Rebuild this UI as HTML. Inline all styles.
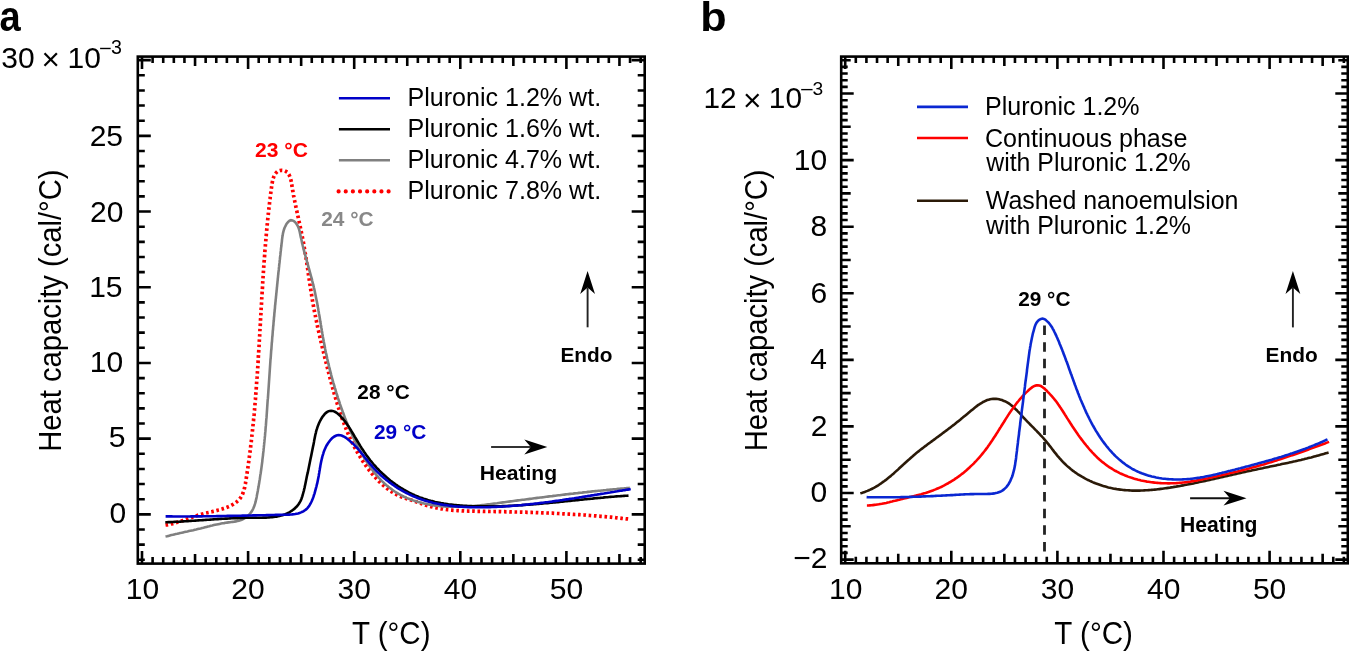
<!DOCTYPE html>
<html><head><meta charset="utf-8"><title>DSC thermograms</title>
<style>
html,body{margin:0;padding:0;background:#fff;}
body{width:1349px;height:651px;overflow:hidden;}
svg{display:block;will-change:transform;}
text{font-family:"Liberation Sans",sans-serif;}
</style></head>
<body>
<svg width="1349" height="651" viewBox="0 0 1349 651">
<rect width="1349" height="651" fill="#fff"/>
<path d="M165.5 525.0L167.0 524.8L168.5 524.5L169.9 524.3L171.4 523.9L172.9 523.6L174.3 523.2L175.8 522.8L177.2 522.3L178.7 521.9L180.1 521.4L181.5 520.9L182.9 520.4L184.3 519.9L185.8 519.4L187.2 518.9L188.6 518.4L190.0 517.9L191.4 517.4L192.8 516.9L194.3 516.4L195.7 515.9L197.1 515.5L198.6 515.0L200.0 514.6L201.5 514.2L202.9 513.9L204.4 513.5L205.8 513.1L207.3 512.8L208.8 512.5L210.2 512.1L211.7 511.8L213.2 511.4L214.6 511.1L216.1 510.7L217.5 510.3L219.0 510.0L220.4 509.5L221.9 509.1L223.3 508.6L224.7 508.2L226.2 507.6L227.6 507.1L228.9 506.5L230.3 505.9L231.6 505.2L233.0 504.5L234.2 503.7L235.5 502.8L236.7 501.9L237.8 500.9L238.9 499.9L239.9 498.7L240.7 497.5L241.5 496.2L242.2 494.9L242.8 493.5L243.3 492.1L243.8 490.7L244.2 489.2L244.6 487.8L244.9 486.3L245.2 484.8L245.5 483.3L245.7 481.8L246.0 480.4L246.2 478.9L246.4 477.4L246.7 475.9L246.9 474.4L247.1 472.9L247.3 471.4L247.6 470.0L247.8 468.5L248.0 467.0L248.2 465.5L248.4 464.0L248.6 462.5L248.8 461.0L249.0 459.5L249.2 458.0L249.4 456.5L249.6 455.1L249.8 453.6L250.0 452.1L250.2 450.6L250.4 449.1L250.6 447.6L250.7 446.1L250.9 444.6L251.1 443.1L251.3 441.6L251.4 440.1L251.6 438.6L251.8 437.1L251.9 435.6L252.1 434.1L252.3 432.6L252.4 431.1L252.6 429.6L252.7 428.2L252.9 426.7L253.0 425.2L253.2 423.7L253.3 422.2L253.5 420.7L253.6 419.2L253.8 417.7L253.9 416.2L254.1 414.7L254.2 413.2L254.3 411.7L254.5 410.2L254.6 408.7L254.7 407.2L254.9 405.7L255.0 404.2L255.1 402.7L255.2 401.2L255.4 399.7L255.5 398.2L255.6 396.7L255.7 395.2L255.8 393.7L256.0 392.2L256.1 390.7L256.2 389.2L256.3 387.7L256.4 386.2L256.5 384.7L256.6 383.2L256.7 381.7L256.8 380.2L256.9 378.7L257.1 377.2L257.2 375.7L257.3 374.2L257.4 372.7L257.5 371.2L257.6 369.7L257.7 368.2L257.8 366.7L257.9 365.2L258.0 363.7L258.1 362.2L258.1 360.7L258.2 359.2L258.3 357.7L258.4 356.2L258.5 354.7L258.6 353.2L258.7 351.7L258.8 350.2L258.9 348.7L259.0 347.2L259.1 345.7L259.2 344.2L259.2 342.7L259.3 341.2L259.4 339.7L259.5 338.2L259.6 336.7L259.7 335.1L259.8 333.6L259.9 332.1L259.9 330.6L260.0 329.1L260.1 327.6L260.2 326.1L260.3 324.6L260.4 323.1L260.5 321.6L260.5 320.1L260.6 318.6L260.7 317.1L260.8 315.6L260.9 314.1L261.0 312.6L261.0 311.1L261.1 309.6L261.2 308.1L261.3 306.6L261.4 305.1L261.5 303.6L261.6 302.1L261.7 300.6L261.7 299.1L261.8 297.6L261.9 296.1L262.0 294.6L262.1 293.1L262.2 291.6L262.3 290.1L262.4 288.6L262.5 287.1L262.6 285.6L262.6 284.1L262.7 282.6L262.8 281.1L262.9 279.6L263.0 278.1L263.1 276.6L263.2 275.1L263.3 273.6L263.4 272.1L263.5 270.6L263.6 269.1L263.7 267.6L263.8 266.1L263.9 264.6L264.0 263.1L264.1 261.6L264.3 260.1L264.4 258.6L264.5 257.1L264.6 255.6L264.7 254.1L264.8 252.6L264.9 251.1L265.0 249.6L265.2 248.1L265.3 246.6L265.4 245.1L265.5 243.6L265.7 242.1L265.8 240.6L265.9 239.1L266.0 237.6L266.2 236.1L266.3 234.6L266.4 233.1L266.6 231.6L266.7 230.1L266.9 228.6L267.0 227.1L267.1 225.6L267.3 224.1L267.4 222.6L267.6 221.1L267.7 219.6L267.9 218.1L268.0 216.6L268.2 215.1L268.4 213.6L268.5 212.1L268.7 210.6L268.9 209.1L269.0 207.6L269.2 206.1L269.4 204.6L269.5 203.2L269.7 201.7L269.9 200.2L270.1 198.7L270.2 197.2L270.4 195.7L270.6 194.2L270.8 192.7L271.0 191.2L271.2 189.7L271.4 188.2L271.6 186.7L271.8 185.2L272.0 183.8L272.3 182.3L272.6 180.8L272.9 179.3L273.4 177.9L273.9 176.5L274.5 175.1L275.3 173.8L276.2 172.7L277.3 171.7L278.7 170.9L280.1 170.5L281.6 170.4L283.1 170.5L284.6 170.8L285.9 171.4L287.2 172.2L288.2 173.4L289.0 174.6L289.6 176.0L290.2 177.4L290.6 178.8L291.0 180.3L291.3 181.8L291.5 183.2L291.8 184.7L292.0 186.2L292.2 187.7L292.5 189.2L292.7 190.7L293.0 192.1L293.3 193.6L293.5 195.1L293.8 196.6L294.1 198.1L294.4 199.5L294.7 201.0L295.0 202.5L295.3 204.0L295.6 205.4L295.9 206.9L296.2 208.4L296.5 209.8L296.9 211.3L297.2 212.8L297.5 214.3L297.8 215.7L298.2 217.2L298.5 218.7L298.8 220.1L299.1 221.6L299.4 223.1L299.8 224.5L300.1 226.0L300.4 227.5L300.7 229.0L301.0 230.4L301.3 231.9L301.6 233.4L301.9 234.8L302.2 236.3L302.5 237.8L302.8 239.3L303.1 240.8L303.4 242.2L303.6 243.7L303.9 245.2L304.1 246.7L304.4 248.2L304.6 249.6L304.9 251.1L305.1 252.6L305.4 254.1L305.6 255.6L305.9 257.1L306.1 258.6L306.3 260.0L306.5 261.5L306.8 263.0L307.0 264.5L307.2 266.0L307.4 267.5L307.7 269.0L307.9 270.5L308.1 271.9L308.3 273.4L308.5 274.9L308.7 276.4L309.0 277.9L309.2 279.4L309.4 280.9L309.6 282.4L309.8 283.8L310.1 285.3L310.3 286.8L310.5 288.3L310.8 289.8L311.0 291.3L311.2 292.8L311.5 294.3L311.7 295.7L311.9 297.2L312.2 298.7L312.4 300.2L312.7 301.7L312.9 303.2L313.2 304.6L313.5 306.1L313.7 307.6L314.0 309.1L314.3 310.6L314.6 312.0L314.9 313.5L315.2 315.0L315.5 316.5L315.7 317.9L316.0 319.4L316.4 320.9L316.7 322.4L317.0 323.8L317.3 325.3L317.6 326.8L317.9 328.2L318.2 329.7L318.6 331.2L318.9 332.6L319.2 334.1L319.6 335.6L319.9 337.0L320.2 338.5L320.6 340.0L320.9 341.4L321.3 342.9L321.6 344.4L322.0 345.8L322.3 347.3L322.7 348.8L323.0 350.2L323.4 351.7L323.7 353.1L324.1 354.6L324.5 356.1L324.8 357.5L325.2 359.0L325.6 360.4L325.9 361.9L326.3 363.4L326.7 364.8L327.0 366.3L327.4 367.7L327.8 369.2L328.2 370.6L328.5 372.1L328.9 373.6L329.3 375.0L329.6 376.5L330.0 377.9L330.4 379.4L330.8 380.8L331.2 382.3L331.6 383.8L331.9 385.2L332.3 386.7L332.7 388.1L333.1 389.6L333.5 391.0L333.9 392.5L334.3 393.9L334.8 395.4L335.2 396.8L335.6 398.2L336.0 399.7L336.4 401.1L336.9 402.6L337.3 404.0L337.8 405.4L338.2 406.9L338.7 408.3L339.1 409.7L339.6 411.2L340.1 412.6L340.6 414.0L341.0 415.5L341.5 416.9L342.0 418.3L342.6 419.7L343.1 421.1L343.6 422.5L344.1 423.9L344.7 425.3L345.2 426.7L345.8 428.1L346.3 429.5L346.9 430.9L347.5 432.3L348.1 433.7L348.7 435.1L349.3 436.4L349.9 437.8L350.6 439.2L351.2 440.5L351.9 441.9L352.5 443.2L353.2 444.6L353.9 445.9L354.6 447.3L355.3 448.6L356.0 449.9L356.7 451.2L357.5 452.5L358.2 453.8L359.0 455.1L359.8 456.4L360.6 457.7L361.4 459.0L362.2 460.2L363.0 461.5L363.8 462.7L364.7 464.0L365.5 465.2L366.4 466.4L367.3 467.7L368.2 468.9L369.1 470.1L370.1 471.2L371.0 472.4L371.9 473.6L372.9 474.7L373.9 475.9L374.9 477.0L375.9 478.1L376.9 479.2L378.0 480.3L379.0 481.4L380.1 482.4L381.2 483.5L382.3 484.5L383.4 485.5L384.5 486.5L385.7 487.4L386.9 488.4L388.1 489.3L389.3 490.2L390.5 491.0L391.8 491.8L393.1 492.6L394.4 493.4L395.7 494.1L397.0 494.8L398.4 495.5L399.7 496.1L401.1 496.7L402.5 497.2L403.9 497.7L405.4 498.2L406.8 498.7L408.2 499.2L409.7 499.6L411.1 500.1L412.5 500.5L414.0 501.0L415.4 501.5L416.8 502.0L418.2 502.5L419.6 503.0L421.1 503.5L422.5 504.0L423.9 504.5L425.3 505.0L426.8 505.4L428.2 505.8L429.6 506.2L431.1 506.6L432.6 507.0L434.0 507.4L435.5 507.7L437.0 508.0L438.4 508.3L439.9 508.5L441.4 508.8L442.9 509.0L444.4 509.3L445.9 509.5L447.4 509.7L448.9 509.8L450.3 510.0L451.8 510.1L453.3 510.3L454.8 510.4L456.3 510.5L457.8 510.6L459.3 510.7L460.8 510.8L462.3 510.9L463.9 510.9L465.4 511.0L466.9 511.0L468.4 511.1L469.9 511.1L471.4 511.2L472.9 511.2L474.4 511.2L475.9 511.3L477.4 511.3L478.9 511.3L480.4 511.3L481.9 511.3L483.4 511.4L484.9 511.4L486.4 511.4L487.9 511.4L489.4 511.5L490.9 511.5L492.4 511.5L493.9 511.5L495.4 511.6L496.9 511.6L498.4 511.6L499.9 511.6L501.5 511.7L503.0 511.7L504.5 511.7L506.0 511.8L507.5 511.8L509.0 511.8L510.5 511.9L512.0 511.9L513.5 511.9L515.0 512.0L516.5 512.0L518.0 512.0L519.5 512.1L521.0 512.1L522.5 512.2L524.0 512.2L525.5 512.2L527.0 512.3L528.5 512.3L530.0 512.4L531.5 512.4L533.0 512.5L534.5 512.5L536.0 512.6L537.5 512.6L539.0 512.7L540.6 512.7L542.1 512.8L543.6 512.9L545.1 512.9L546.6 513.0L548.1 513.0L549.6 513.1L551.1 513.2L552.6 513.2L554.1 513.3L555.6 513.4L557.1 513.5L558.6 513.5L560.1 513.6L561.6 513.7L563.1 513.8L564.6 513.8L566.1 513.9L567.6 514.0L569.1 514.1L570.6 514.2L572.1 514.3L573.6 514.4L575.1 514.5L576.6 514.5L578.1 514.6L579.6 514.7L581.1 514.8L582.6 514.9L584.1 515.0L585.6 515.1L587.1 515.3L588.6 515.4L590.1 515.5L591.6 515.6L593.1 515.7L594.6 515.8L596.1 515.9L597.6 516.1L599.1 516.2L600.6 516.3L602.1 516.4L603.6 516.6L605.1 516.7L606.6 516.8L608.1 517.0L609.6 517.1L611.1 517.2L612.6 517.4L614.1 517.5L615.6 517.7L617.1 517.8L618.6 518.0L620.1 518.1L621.6 518.3L623.1 518.5L624.6 518.6L626.1 518.8L627.6 518.9L629.1 519.1L630.6 519.3" fill="none" stroke="#ff0000" stroke-width="3.7" stroke-dasharray="2.6 2.7"/>
<path d="M165.5 536.6L167.0 536.3L168.4 535.9L169.9 535.5L171.3 535.1L172.8 534.8L174.3 534.4L175.7 534.1L177.2 533.8L178.7 533.4L180.1 533.1L181.6 532.8L183.1 532.4L184.5 532.1L186.0 531.8L187.5 531.5L188.9 531.1L190.4 530.8L191.9 530.5L193.3 530.2L194.8 529.8L196.2 529.5L197.7 529.1L199.2 528.7L200.6 528.4L202.1 528.0L203.5 527.7L205.0 527.3L206.5 526.9L207.9 526.5L209.4 526.2L210.8 525.8L212.3 525.5L213.8 525.1L215.2 524.8L216.7 524.5L218.2 524.2L219.6 523.9L221.1 523.6L222.6 523.3L224.1 523.1L225.6 522.8L227.0 522.6L228.5 522.4L230.0 522.2L231.5 522.0L233.0 521.9L234.5 521.6L236.0 521.4L237.4 521.1L238.9 520.7L240.3 520.3L241.7 519.8L243.1 519.1L244.4 518.4L245.7 517.6L246.9 516.7L248.0 515.7L249.1 514.7L250.1 513.5L251.0 512.4L251.9 511.1L252.6 509.8L253.3 508.5L253.9 507.1L254.4 505.7L254.9 504.2L255.3 502.8L255.7 501.4L256.0 499.9L256.4 498.4L256.7 496.9L256.9 495.5L257.2 494.0L257.5 492.5L257.8 491.0L258.0 489.6L258.3 488.1L258.6 486.6L258.8 485.1L259.1 483.6L259.3 482.1L259.5 480.7L259.8 479.2L260.0 477.7L260.2 476.2L260.4 474.7L260.7 473.2L260.9 471.7L261.1 470.3L261.3 468.8L261.5 467.3L261.7 465.8L261.9 464.3L262.1 462.8L262.3 461.3L262.4 459.8L262.6 458.3L262.8 456.8L263.0 455.3L263.1 453.9L263.3 452.4L263.5 450.9L263.6 449.4L263.8 447.9L263.9 446.4L264.1 444.9L264.2 443.4L264.4 441.9L264.5 440.4L264.7 438.9L264.8 437.4L265.0 435.9L265.1 434.4L265.2 432.9L265.4 431.4L265.5 429.9L265.6 428.4L265.7 426.9L265.9 425.4L266.0 423.9L266.1 422.4L266.2 420.9L266.3 419.4L266.5 417.9L266.6 416.4L266.7 414.9L266.8 413.4L266.9 411.9L267.0 410.4L267.1 408.9L267.2 407.4L267.3 405.9L267.4 404.4L267.5 402.9L267.6 401.4L267.7 399.9L267.9 398.4L268.0 396.9L268.1 395.4L268.2 393.9L268.3 392.4L268.4 390.9L268.5 389.4L268.6 388.0L268.7 386.5L268.8 385.0L268.9 383.5L269.0 382.0L269.1 380.5L269.2 379.0L269.3 377.5L269.4 376.0L269.5 374.5L269.6 373.0L269.7 371.5L269.8 370.0L269.9 368.5L270.0 367.0L270.1 365.5L270.2 364.0L270.3 362.5L270.4 361.0L270.5 359.5L270.7 358.0L270.8 356.5L270.9 355.0L271.0 353.5L271.1 352.0L271.2 350.5L271.4 349.0L271.5 347.5L271.6 346.0L271.7 344.5L271.8 343.0L272.0 341.5L272.1 340.0L272.2 338.5L272.3 337.0L272.5 335.5L272.6 334.0L272.7 332.5L272.8 331.0L273.0 329.5L273.1 328.0L273.2 326.5L273.4 325.0L273.5 323.5L273.6 322.0L273.8 320.5L273.9 319.0L274.0 317.5L274.2 316.0L274.3 314.5L274.4 313.0L274.6 311.5L274.7 310.0L274.9 308.5L275.0 307.0L275.1 305.5L275.3 304.1L275.4 302.6L275.6 301.1L275.7 299.6L275.9 298.1L276.0 296.6L276.2 295.1L276.3 293.6L276.5 292.1L276.6 290.6L276.8 289.1L276.9 287.6L277.1 286.1L277.2 284.6L277.4 283.1L277.5 281.6L277.7 280.1L277.8 278.6L278.0 277.1L278.1 275.6L278.3 274.1L278.4 272.6L278.6 271.2L278.8 269.7L278.9 268.2L279.1 266.7L279.2 265.2L279.4 263.7L279.6 262.2L279.7 260.7L279.9 259.2L280.0 257.7L280.2 256.2L280.4 254.7L280.5 253.2L280.7 251.7L280.9 250.2L281.0 248.7L281.2 247.2L281.4 245.8L281.5 244.3L281.7 242.8L281.9 241.3L282.0 239.8L282.2 238.3L282.4 236.8L282.7 235.3L282.9 233.8L283.2 232.4L283.6 230.9L284.0 229.5L284.5 228.0L285.1 226.7L285.8 225.3L286.5 224.0L287.4 222.8L288.4 221.6L289.6 220.7L291.0 220.2L292.4 220.4L293.8 221.1L294.9 222.0L295.9 223.1L296.8 224.4L297.6 225.7L298.2 227.0L298.8 228.4L299.2 229.9L299.6 231.3L299.9 232.8L300.2 234.2L300.5 235.7L300.8 237.2L301.2 238.7L301.5 240.1L301.8 241.6L302.1 243.1L302.5 244.5L302.8 246.0L303.2 247.4L303.6 248.9L303.9 250.4L304.3 251.8L304.7 253.3L305.1 254.7L305.5 256.2L305.9 257.6L306.3 259.1L306.7 260.5L307.1 262.0L307.5 263.4L307.9 264.9L308.3 266.3L308.7 267.8L309.1 269.2L309.5 270.7L309.9 272.1L310.3 273.6L310.7 275.0L311.1 276.5L311.5 277.9L311.9 279.4L312.2 280.8L312.6 282.3L313.0 283.7L313.3 285.2L313.7 286.6L314.0 288.1L314.4 289.6L314.7 291.0L315.0 292.5L315.3 294.0L315.6 295.5L315.9 296.9L316.2 298.4L316.5 299.9L316.8 301.3L317.1 302.8L317.4 304.3L317.6 305.8L317.9 307.3L318.2 308.7L318.4 310.2L318.7 311.7L318.9 313.2L319.2 314.7L319.5 316.1L319.7 317.6L319.9 319.1L320.2 320.6L320.4 322.1L320.7 323.6L320.9 325.0L321.2 326.5L321.4 328.0L321.7 329.5L321.9 331.0L322.2 332.4L322.4 333.9L322.7 335.4L322.9 336.9L323.2 338.4L323.5 339.9L323.7 341.3L324.0 342.8L324.3 344.3L324.6 345.8L324.9 347.2L325.1 348.7L325.4 350.2L325.7 351.7L326.0 353.1L326.4 354.6L326.7 356.1L327.0 357.5L327.3 359.0L327.7 360.5L328.0 361.9L328.3 363.4L328.7 364.9L329.0 366.3L329.4 367.8L329.7 369.2L330.1 370.7L330.5 372.2L330.9 373.6L331.2 375.1L331.6 376.5L332.0 378.0L332.4 379.4L332.8 380.9L333.2 382.3L333.7 383.8L334.1 385.2L334.5 386.6L334.9 388.1L335.4 389.5L335.8 391.0L336.2 392.4L336.7 393.8L337.1 395.3L337.6 396.7L338.0 398.1L338.5 399.6L339.0 401.0L339.5 402.4L339.9 403.8L340.4 405.3L340.9 406.7L341.4 408.1L341.9 409.5L342.4 410.9L342.9 412.3L343.5 413.8L344.0 415.2L344.5 416.6L345.0 418.0L345.6 419.4L346.1 420.8L346.7 422.2L347.3 423.6L347.8 425.0L348.4 426.3L349.0 427.7L349.6 429.1L350.2 430.5L350.8 431.9L351.4 433.2L352.0 434.6L352.6 436.0L353.3 437.3L353.9 438.7L354.6 440.1L355.2 441.4L355.9 442.7L356.6 444.1L357.3 445.4L357.9 446.8L358.6 448.1L359.4 449.4L360.1 450.7L360.8 452.0L361.6 453.4L362.3 454.7L363.1 456.0L363.8 457.2L364.6 458.5L365.4 459.8L366.2 461.1L367.0 462.3L367.9 463.6L368.7 464.8L369.6 466.1L370.4 467.3L371.3 468.5L372.2 469.7L373.1 470.9L374.1 472.1L375.0 473.3L376.0 474.4L376.9 475.6L377.9 476.7L378.9 477.8L380.0 478.9L381.0 480.0L382.0 481.1L383.1 482.1L384.2 483.2L385.3 484.2L386.4 485.2L387.6 486.1L388.7 487.1L389.9 488.0L391.1 488.9L392.3 489.8L393.6 490.7L394.8 491.5L396.1 492.3L397.4 493.1L398.7 493.9L400.0 494.6L401.3 495.3L402.6 496.0L404.0 496.7L405.4 497.3L406.7 497.9L408.1 498.5L409.5 499.0L410.9 499.6L412.3 500.1L413.7 500.6L415.2 501.1L416.6 501.5L418.0 501.9L419.5 502.3L420.9 502.7L422.4 503.1L423.9 503.4L425.3 503.8L426.8 504.1L428.3 504.4L429.8 504.6L431.2 504.9L432.7 505.1L434.2 505.4L435.7 505.6L437.2 505.8L438.7 505.9L440.2 506.1L441.7 506.2L443.2 506.4L444.7 506.5L446.2 506.6L447.7 506.6L449.2 506.7L450.7 506.7L452.2 506.8L453.7 506.8L455.2 506.8L456.7 506.8L458.2 506.8L459.7 506.8L461.2 506.7L462.7 506.7L464.2 506.6L465.7 506.5L467.2 506.4L468.7 506.4L470.2 506.2L471.7 506.1L473.2 506.0L474.7 505.9L476.2 505.7L477.7 505.6L479.2 505.5L480.7 505.3L482.2 505.1L483.7 505.0L485.2 504.8L486.6 504.6L488.1 504.4L489.6 504.2L491.1 504.0L492.6 503.8L494.1 503.6L495.6 503.5L497.1 503.3L498.6 503.0L500.1 502.8L501.5 502.6L503.0 502.4L504.5 502.2L506.0 502.0L507.5 501.8L509.0 501.6L510.5 501.4L512.0 501.2L513.5 501.0L515.0 500.8L516.4 500.6L517.9 500.4L519.4 500.2L520.9 500.0L522.4 499.8L523.9 499.7L525.4 499.5L526.9 499.3L528.4 499.1L529.9 498.9L531.3 498.7L532.8 498.5L534.3 498.3L535.8 498.1L537.3 497.9L538.8 497.7L540.3 497.5L541.8 497.4L543.3 497.2L544.8 497.0L546.3 496.8L547.7 496.6L549.2 496.4L550.7 496.2L552.2 496.1L553.7 495.9L555.2 495.7L556.7 495.5L558.2 495.3L559.7 495.2L561.2 495.0L562.7 494.8L564.2 494.6L565.7 494.4L567.1 494.3L568.6 494.1L570.1 493.9L571.6 493.7L573.1 493.6L574.6 493.4L576.1 493.2L577.6 493.1L579.1 492.9L580.6 492.7L582.1 492.6L583.6 492.4L585.1 492.2L586.6 492.1L588.1 491.9L589.6 491.8L591.0 491.6L592.5 491.4L594.0 491.3L595.5 491.1L597.0 491.0L598.5 490.8L600.0 490.7L601.5 490.5L603.0 490.4L604.5 490.2L606.0 490.1L607.5 489.9L609.0 489.8L610.5 489.6L612.0 489.5L613.5 489.3L615.0 489.2L616.5 489.1L618.0 488.9L619.5 488.8L621.0 488.6L622.5 488.5L624.0 488.4L625.5 488.2L627.0 488.1L628.4 488.0L629.9 487.8" fill="none" stroke="#808080" stroke-width="2.6"/>
<path d="M165.3 522.2L166.9 522.2L168.4 522.1L169.9 522.1L171.4 522.0L172.9 522.0L174.4 521.9L175.9 521.8L177.4 521.7L178.9 521.7L180.4 521.6L181.9 521.5L183.4 521.4L184.9 521.3L186.4 521.2L187.9 521.1L189.4 521.0L190.9 520.9L192.4 520.8L193.9 520.7L195.4 520.6L196.9 520.5L198.4 520.4L199.9 520.3L201.4 520.2L202.9 520.1L204.4 520.0L205.9 519.9L207.4 519.8L208.9 519.7L210.4 519.6L211.9 519.5L213.4 519.4L214.9 519.3L216.4 519.2L217.9 519.1L219.4 519.0L220.9 518.9L222.4 518.8L223.9 518.7L225.4 518.6L227.0 518.6L228.5 518.5L230.0 518.4L231.5 518.3L233.0 518.2L234.5 518.2L236.0 518.1L237.5 518.1L239.0 518.0L240.5 518.0L242.0 517.9L243.5 517.9L245.0 517.8L246.5 517.8L248.0 517.8L249.5 517.7L251.0 517.7L252.5 517.7L254.0 517.7L255.5 517.7L257.0 517.7L258.5 517.7L260.1 517.7L261.6 517.7L263.1 517.6L264.6 517.6L266.1 517.6L267.6 517.5L269.1 517.4L270.6 517.3L272.1 517.2L273.6 517.0L275.1 516.8L276.6 516.6L278.0 516.3L279.5 516.0L281.0 515.6L282.4 515.2L283.8 514.7L285.3 514.2L286.6 513.6L288.0 513.0L289.3 512.3L290.6 511.5L291.9 510.7L293.1 509.8L294.3 508.9L295.4 507.8L296.5 506.8L297.5 505.6L298.4 504.5L299.2 503.2L300.0 501.9L300.7 500.6L301.3 499.2L301.8 497.8L302.3 496.4L302.7 494.9L303.1 493.5L303.5 492.0L303.9 490.6L304.2 489.1L304.6 487.6L304.9 486.1L305.2 484.7L305.5 483.2L305.8 481.7L306.1 480.3L306.4 478.8L306.7 477.3L307.0 475.8L307.3 474.4L307.7 472.9L308.0 471.4L308.3 469.9L308.6 468.5L308.9 467.0L309.2 465.5L309.5 464.0L309.8 462.6L310.1 461.1L310.4 459.6L310.7 458.1L311.0 456.7L311.3 455.2L311.6 453.7L311.9 452.2L312.2 450.8L312.5 449.3L312.8 447.8L313.1 446.3L313.4 444.9L313.7 443.4L314.0 441.9L314.2 440.4L314.5 439.0L314.8 437.5L315.1 436.0L315.4 434.5L315.8 433.1L316.1 431.6L316.5 430.2L317.0 428.7L317.4 427.3L317.9 425.9L318.5 424.5L319.1 423.1L319.7 421.7L320.4 420.4L321.1 419.1L321.9 417.8L322.7 416.5L323.7 415.3L324.6 414.2L325.7 413.1L326.9 412.2L328.2 411.4L329.6 410.9L331.1 410.7L332.6 410.9L334.0 411.4L335.3 412.0L336.6 412.8L337.8 413.7L339.0 414.7L340.1 415.7L341.1 416.8L342.1 417.9L343.1 419.1L344.0 420.2L345.0 421.4L345.9 422.6L346.8 423.9L347.6 425.1L348.4 426.3L349.3 427.6L350.1 428.9L350.9 430.2L351.6 431.4L352.4 432.7L353.2 434.0L354.0 435.3L354.7 436.6L355.5 437.9L356.3 439.2L357.0 440.5L357.8 441.8L358.6 443.1L359.4 444.4L360.1 445.7L360.9 446.9L361.7 448.2L362.6 449.5L363.4 450.7L364.2 452.0L365.1 453.2L365.9 454.5L366.8 455.7L367.7 456.9L368.6 458.1L369.5 459.3L370.4 460.5L371.4 461.7L372.3 462.8L373.3 464.0L374.3 465.1L375.3 466.2L376.3 467.4L377.3 468.5L378.4 469.5L379.4 470.6L380.5 471.7L381.6 472.7L382.7 473.8L383.8 474.8L384.9 475.8L386.0 476.8L387.1 477.8L388.3 478.8L389.4 479.7L390.6 480.7L391.8 481.6L393.0 482.5L394.2 483.4L395.4 484.3L396.7 485.1L397.9 486.0L399.2 486.8L400.4 487.6L401.7 488.4L403.0 489.2L404.3 490.0L405.6 490.7L406.9 491.4L408.3 492.2L409.6 492.8L410.9 493.5L412.3 494.2L413.7 494.8L415.0 495.4L416.4 496.0L417.8 496.5L419.2 497.1L420.6 497.6L422.1 498.1L423.5 498.6L424.9 499.1L426.4 499.5L427.8 500.0L429.2 500.4L430.7 500.8L432.2 501.1L433.6 501.5L435.1 501.9L436.5 502.2L438.0 502.5L439.5 502.8L441.0 503.1L442.5 503.3L443.9 503.6L445.4 503.8L446.9 504.0L448.4 504.3L449.9 504.5L451.4 504.6L452.9 504.8L454.4 505.0L455.9 505.1L457.4 505.3L458.9 505.4L460.4 505.5L461.9 505.6L463.4 505.7L464.9 505.8L466.4 505.9L467.9 506.0L469.4 506.1L470.9 506.1L472.4 506.2L473.9 506.2L475.4 506.3L476.9 506.3L478.4 506.3L479.9 506.4L481.4 506.4L482.9 506.4L484.4 506.4L485.9 506.4L487.5 506.4L489.0 506.4L490.5 506.4L492.0 506.4L493.5 506.4L495.0 506.3L496.5 506.3L498.0 506.3L499.5 506.2L501.0 506.2L502.5 506.1L504.0 506.1L505.5 506.0L507.0 506.0L508.5 505.9L510.0 505.8L511.5 505.8L513.0 505.7L514.5 505.6L516.0 505.5L517.5 505.4L519.0 505.3L520.5 505.2L522.0 505.1L523.6 505.0L525.1 504.9L526.6 504.8L528.1 504.7L529.6 504.6L531.1 504.5L532.6 504.4L534.1 504.3L535.6 504.1L537.1 504.0L538.6 503.9L540.1 503.7L541.6 503.6L543.1 503.5L544.6 503.3L546.1 503.2L547.6 503.1L549.1 502.9L550.6 502.8L552.1 502.6L553.5 502.5L555.0 502.4L556.5 502.2L558.0 502.1L559.5 501.9L561.0 501.8L562.5 501.6L564.0 501.5L565.5 501.3L567.0 501.2L568.5 501.0L570.0 500.9L571.5 500.7L573.0 500.5L574.5 500.4L576.0 500.2L577.5 500.1L579.0 499.9L580.5 499.8L582.0 499.6L583.5 499.5L585.0 499.3L586.5 499.2L588.0 499.0L589.5 498.9L591.0 498.7L592.5 498.6L594.0 498.4L595.5 498.3L597.0 498.1L598.5 498.0L600.0 497.9L601.5 497.7L603.0 497.6L604.5 497.4L606.0 497.3L607.5 497.2L609.0 497.0L610.5 496.9L612.0 496.8L613.5 496.7L615.0 496.5L616.5 496.4L618.0 496.3L619.5 496.2L621.0 496.1L622.5 496.0L624.0 495.9L625.5 495.8L627.0 495.7L628.5 495.6" fill="none" stroke="#000" stroke-width="2.6"/>
<path d="M165.6 516.4L167.1 516.4L168.6 516.4L170.1 516.4L171.6 516.4L173.1 516.5L174.6 516.5L176.1 516.5L177.6 516.5L179.1 516.5L180.7 516.5L182.2 516.5L183.7 516.5L185.2 516.5L186.7 516.5L188.2 516.5L189.7 516.5L191.2 516.4L192.7 516.4L194.2 516.4L195.7 516.4L197.2 516.4L198.7 516.4L200.2 516.4L201.8 516.4L203.3 516.3L204.8 516.3L206.3 516.3L207.8 516.3L209.3 516.3L210.8 516.2L212.3 516.2L213.8 516.2L215.3 516.2L216.8 516.1L218.3 516.1L219.8 516.1L221.3 516.1L222.9 516.0L224.4 516.0L225.9 516.0L227.4 515.9L228.9 515.9L230.4 515.9L231.9 515.9L233.4 515.8L234.9 515.8L236.4 515.8L237.9 515.7L239.4 515.7L240.9 515.7L242.4 515.6L244.0 515.6L245.5 515.6L247.0 515.5L248.5 515.5L250.0 515.5L251.5 515.5L253.0 515.4L254.5 515.4L256.0 515.4L257.5 515.3L259.0 515.3L260.5 515.3L262.0 515.2L263.5 515.2L265.1 515.2L266.6 515.1L268.1 515.1L269.6 515.1L271.1 515.0L272.6 515.0L274.1 515.0L275.6 514.9L277.1 514.9L278.6 514.9L280.1 514.9L281.6 514.8L283.1 514.8L284.6 514.8L286.2 514.7L287.7 514.7L289.2 514.6L290.7 514.5L292.2 514.4L293.7 514.2L295.2 514.0L296.6 513.7L298.1 513.4L299.6 512.9L301.0 512.4L302.4 511.8L303.7 511.1L304.9 510.3L306.1 509.4L307.2 508.3L308.2 507.2L309.1 505.9L309.9 504.7L310.6 503.4L311.3 502.0L311.9 500.7L312.5 499.3L313.1 497.8L313.6 496.4L314.0 495.0L314.5 493.6L314.9 492.1L315.3 490.7L315.7 489.2L316.1 487.7L316.5 486.3L316.8 484.8L317.2 483.4L317.5 481.9L317.8 480.4L318.1 478.9L318.4 477.4L318.7 476.0L318.9 474.5L319.2 473.0L319.4 471.5L319.7 470.0L319.9 468.5L320.2 467.1L320.4 465.6L320.7 464.1L321.0 462.6L321.3 461.1L321.6 459.7L322.0 458.2L322.3 456.7L322.7 455.3L323.2 453.8L323.6 452.4L324.1 451.0L324.7 449.6L325.3 448.2L325.9 446.8L326.6 445.5L327.4 444.2L328.2 442.9L329.1 441.7L330.0 440.5L331.0 439.3L332.0 438.3L333.2 437.3L334.4 436.5L335.8 435.8L337.2 435.3L338.7 435.1L340.2 435.3L341.6 435.6L343.0 436.2L344.4 436.9L345.7 437.7L346.9 438.5L348.1 439.4L349.3 440.4L350.4 441.4L351.6 442.4L352.7 443.4L353.8 444.4L354.8 445.5L355.8 446.6L356.9 447.7L357.9 448.8L358.8 450.0L359.8 451.1L360.8 452.3L361.7 453.5L362.7 454.7L363.6 455.8L364.5 457.0L365.5 458.2L366.4 459.4L367.4 460.6L368.3 461.7L369.3 462.9L370.2 464.1L371.2 465.2L372.2 466.3L373.2 467.5L374.2 468.6L375.2 469.7L376.3 470.8L377.3 471.8L378.4 472.9L379.5 473.9L380.6 475.0L381.7 476.0L382.9 477.0L384.0 478.0L385.2 478.9L386.3 479.9L387.5 480.8L388.7 481.7L389.9 482.6L391.1 483.5L392.3 484.4L393.6 485.3L394.8 486.1L396.1 487.0L397.3 487.8L398.6 488.6L399.9 489.4L401.2 490.1L402.5 490.9L403.8 491.6L405.2 492.3L406.5 493.0L407.8 493.7L409.2 494.4L410.6 495.0L411.9 495.6L413.3 496.2L414.7 496.8L416.1 497.4L417.5 498.0L418.9 498.5L420.3 499.0L421.7 499.5L423.2 500.0L424.6 500.5L426.0 500.9L427.5 501.3L428.9 501.7L430.4 502.1L431.9 502.5L433.3 502.9L434.8 503.2L436.3 503.5L437.7 503.8L439.2 504.1L440.7 504.4L442.2 504.6L443.7 504.9L445.2 505.1L446.7 505.3L448.1 505.5L449.6 505.7L451.1 505.9L452.6 506.1L454.1 506.2L455.6 506.4L457.1 506.5L458.6 506.6L460.1 506.7L461.7 506.8L463.2 506.9L464.7 507.0L466.2 507.0L467.7 507.1L469.2 507.2L470.7 507.2L472.2 507.2L473.7 507.3L475.2 507.3L476.7 507.3L478.2 507.3L479.7 507.3L481.2 507.3L482.7 507.3L484.3 507.2L485.8 507.2L487.3 507.2L488.8 507.1L490.3 507.1L491.8 507.0L493.3 507.0L494.8 506.9L496.3 506.9L497.8 506.8L499.3 506.7L500.8 506.6L502.3 506.6L503.8 506.5L505.3 506.4L506.8 506.3L508.3 506.2L509.9 506.1L511.4 506.0L512.9 505.8L514.4 505.7L515.9 505.6L517.4 505.5L518.9 505.3L520.4 505.2L521.9 505.1L523.4 504.9L524.9 504.8L526.4 504.6L527.9 504.5L529.4 504.3L530.9 504.1L532.4 504.0L533.9 503.8L535.4 503.6L536.9 503.5L538.4 503.3L539.8 503.1L541.3 502.9L542.8 502.7L544.3 502.5L545.8 502.3L547.3 502.2L548.8 502.0L550.3 501.8L551.8 501.6L553.3 501.3L554.8 501.1L556.3 500.9L557.8 500.7L559.3 500.5L560.8 500.3L562.3 500.1L563.7 499.8L565.2 499.6L566.7 499.4L568.2 499.2L569.7 498.9L571.2 498.7L572.7 498.5L574.2 498.3L575.7 498.0L577.2 497.8L578.6 497.6L580.1 497.3L581.6 497.1L583.1 496.8L584.6 496.6L586.1 496.4L587.6 496.1L589.1 495.9L590.6 495.6L592.0 495.4L593.5 495.2L595.0 494.9L596.5 494.7L598.0 494.4L599.5 494.2L601.0 493.9L602.5 493.7L603.9 493.5L605.4 493.2L606.9 493.0L608.4 492.7L609.9 492.5L611.4 492.2L612.9 492.0L614.4 491.8L615.8 491.5L617.3 491.3L618.8 491.0L620.3 490.8L621.8 490.6L623.3 490.3L624.8 490.1L626.3 489.8L627.8 489.6L629.2 489.4L630.7 489.1" fill="none" stroke="#0000c8" stroke-width="2.6"/>
<path d="M1044.5 325.5V556" fill="none" stroke="#222" stroke-width="2.8" stroke-dasharray="9.5 7.15"/>
<path d="M860.3 493.3L861.8 492.9L863.2 492.4L864.7 492.0L866.1 491.4L867.5 490.9L868.9 490.3L870.2 489.7L871.6 489.0L872.9 488.3L874.3 487.6L875.6 486.9L876.9 486.1L878.2 485.3L879.4 484.5L880.7 483.7L881.9 482.8L883.1 481.9L884.4 481.0L885.6 480.1L886.8 479.2L887.9 478.3L889.1 477.3L890.3 476.4L891.4 475.4L892.5 474.4L893.7 473.4L894.8 472.4L895.9 471.4L897.0 470.4L898.2 469.4L899.3 468.3L900.4 467.3L901.5 466.3L902.6 465.3L903.7 464.2L904.8 463.2L905.9 462.2L907.0 461.2L908.1 460.2L909.3 459.2L910.4 458.2L911.5 457.2L912.7 456.2L913.8 455.2L915.0 454.2L916.1 453.3L917.3 452.3L918.5 451.4L919.6 450.4L920.8 449.5L922.0 448.6L923.2 447.7L924.4 446.8L925.6 445.9L926.8 444.9L928.0 444.0L929.3 443.2L930.5 442.3L931.7 441.4L932.9 440.5L934.1 439.6L935.3 438.7L936.5 437.8L937.8 436.9L939.0 436.0L940.2 435.1L941.4 434.2L942.6 433.3L943.8 432.4L945.0 431.5L946.2 430.6L947.4 429.7L948.6 428.8L949.8 427.9L951.0 426.9L952.2 426.0L953.4 425.1L954.6 424.2L955.8 423.2L956.9 422.3L958.1 421.4L959.3 420.4L960.5 419.5L961.6 418.5L962.8 417.6L964.0 416.6L965.1 415.7L966.3 414.7L967.5 413.7L968.6 412.8L969.8 411.8L970.9 410.8L972.1 409.9L973.3 408.9L974.4 408.0L975.6 407.0L976.8 406.1L978.0 405.2L979.3 404.4L980.5 403.5L981.8 402.8L983.1 402.0L984.5 401.3L985.8 400.7L987.2 400.1L988.7 399.7L990.1 399.3L991.6 399.0L993.1 398.9L994.6 398.8L996.1 398.9L997.6 399.0L999.1 399.3L1000.6 399.7L1002.0 400.1L1003.4 400.7L1004.8 401.2L1006.2 401.9L1007.5 402.6L1008.8 403.4L1010.0 404.3L1011.2 405.2L1012.4 406.1L1013.5 407.1L1014.6 408.1L1015.7 409.2L1016.8 410.2L1017.8 411.3L1018.9 412.4L1019.9 413.5L1020.9 414.6L1021.9 415.8L1022.9 416.9L1023.9 418.0L1025.0 419.1L1026.0 420.2L1027.1 421.3L1028.1 422.3L1029.2 423.4L1030.2 424.5L1031.3 425.6L1032.3 426.6L1033.4 427.7L1034.5 428.8L1035.5 429.9L1036.6 430.9L1037.6 432.0L1038.7 433.1L1039.7 434.2L1040.7 435.3L1041.8 436.4L1042.8 437.5L1043.8 438.6L1044.8 439.8L1045.7 440.9L1046.7 442.1L1047.7 443.3L1048.6 444.4L1049.5 445.6L1050.5 446.8L1051.4 448.0L1052.3 449.2L1053.2 450.4L1054.1 451.6L1055.1 452.8L1056.0 453.9L1056.9 455.1L1057.9 456.3L1058.9 457.4L1059.9 458.6L1060.9 459.7L1061.9 460.8L1062.9 461.9L1064.0 463.0L1065.1 464.0L1066.2 465.1L1067.3 466.1L1068.4 467.1L1069.6 468.1L1070.7 469.0L1071.9 469.9L1073.1 470.9L1074.3 471.8L1075.5 472.6L1076.8 473.5L1078.0 474.3L1079.3 475.1L1080.6 475.9L1081.9 476.7L1083.2 477.4L1084.5 478.2L1085.8 478.9L1087.2 479.6L1088.5 480.2L1089.9 480.9L1091.3 481.5L1092.6 482.1L1094.0 482.7L1095.4 483.3L1096.8 483.8L1098.3 484.3L1099.7 484.8L1101.1 485.3L1102.5 485.8L1104.0 486.2L1105.4 486.6L1106.9 487.0L1108.3 487.4L1109.8 487.7L1111.3 488.1L1112.8 488.4L1114.2 488.7L1115.7 488.9L1117.2 489.2L1118.7 489.4L1120.2 489.6L1121.7 489.8L1123.2 490.0L1124.7 490.1L1126.2 490.2L1127.7 490.3L1129.2 490.4L1130.7 490.5L1132.2 490.6L1133.7 490.6L1135.2 490.6L1136.7 490.6L1138.2 490.6L1139.7 490.6L1141.2 490.5L1142.8 490.5L1144.3 490.4L1145.8 490.3L1147.3 490.2L1148.8 490.1L1150.3 490.0L1151.8 489.9L1153.3 489.8L1154.8 489.6L1156.3 489.5L1157.8 489.3L1159.3 489.1L1160.8 488.9L1162.3 488.7L1163.8 488.5L1165.3 488.3L1166.7 488.1L1168.2 487.9L1169.7 487.7L1171.2 487.4L1172.7 487.2L1174.2 486.9L1175.7 486.7L1177.2 486.4L1178.6 486.2L1180.1 485.9L1181.6 485.6L1183.1 485.4L1184.6 485.1L1186.1 484.8L1187.5 484.5L1189.0 484.2L1190.5 483.9L1192.0 483.7L1193.5 483.4L1194.9 483.1L1196.4 482.8L1197.9 482.4L1199.4 482.1L1200.8 481.8L1202.3 481.5L1203.8 481.2L1205.3 480.9L1206.7 480.6L1208.2 480.2L1209.7 479.9L1211.1 479.6L1212.6 479.3L1214.1 478.9L1215.6 478.6L1217.0 478.3L1218.5 478.0L1220.0 477.6L1221.4 477.3L1222.9 477.0L1224.4 476.6L1225.8 476.3L1227.3 476.0L1228.8 475.6L1230.3 475.3L1231.7 474.9L1233.2 474.6L1234.7 474.3L1236.1 473.9L1237.6 473.6L1239.1 473.3L1240.5 473.0L1242.0 472.6L1243.5 472.3L1245.0 472.0L1246.4 471.6L1247.9 471.3L1249.4 471.0L1250.9 470.7L1252.3 470.3L1253.8 470.0L1255.3 469.7L1256.7 469.4L1258.2 469.1L1259.7 468.8L1261.2 468.5L1262.6 468.2L1264.1 467.8L1265.6 467.5L1267.1 467.2L1268.5 466.9L1270.0 466.6L1271.5 466.3L1273.0 466.0L1274.4 465.7L1275.9 465.4L1277.4 465.1L1278.9 464.8L1280.3 464.5L1281.8 464.1L1283.3 463.8L1284.8 463.5L1286.2 463.2L1287.7 462.9L1289.2 462.6L1290.7 462.2L1292.1 461.9L1293.6 461.6L1295.1 461.3L1296.5 460.9L1298.0 460.6L1299.5 460.2L1301.0 459.9L1302.4 459.5L1303.9 459.2L1305.3 458.8L1306.8 458.5L1308.3 458.1L1309.7 457.7L1311.2 457.4L1312.7 457.0L1314.1 456.6L1315.6 456.2L1317.0 455.8L1318.5 455.4L1319.9 455.0L1321.4 454.6L1322.8 454.2L1324.3 453.8L1325.7 453.3L1327.2 452.9L1328.6 452.5" fill="none" stroke="#2b1a08" stroke-width="2.6"/>
<path d="M866.9 505.5L868.4 505.5L869.9 505.4L871.4 505.3L872.9 505.1L874.4 504.9L875.8 504.7L877.3 504.5L878.8 504.3L880.3 504.0L881.8 503.8L883.3 503.5L884.7 503.2L886.2 502.9L887.7 502.5L889.2 502.2L890.6 501.8L892.1 501.5L893.5 501.1L895.0 500.8L896.5 500.4L897.9 500.0L899.4 499.7L900.8 499.3L902.3 498.9L903.8 498.6L905.2 498.2L906.7 497.9L908.2 497.5L909.6 497.1L911.1 496.8L912.5 496.4L914.0 496.1L915.5 495.7L916.9 495.3L918.4 494.9L919.8 494.6L921.3 494.2L922.7 493.7L924.2 493.3L925.6 492.9L927.1 492.4L928.5 492.0L929.9 491.5L931.3 491.0L932.8 490.5L934.2 489.9L935.6 489.4L936.9 488.8L938.3 488.2L939.7 487.6L941.1 487.0L942.4 486.3L943.8 485.6L945.1 484.9L946.4 484.2L947.7 483.5L949.0 482.7L950.3 482.0L951.6 481.2L952.9 480.4L954.2 479.6L955.4 478.7L956.7 477.9L957.9 477.0L959.1 476.1L960.3 475.2L961.5 474.3L962.7 473.4L963.9 472.4L965.0 471.5L966.2 470.5L967.3 469.5L968.4 468.5L969.5 467.5L970.6 466.4L971.7 465.4L972.8 464.4L973.9 463.3L974.9 462.2L976.0 461.1L977.0 460.0L978.0 458.9L979.0 457.8L980.0 456.7L981.0 455.5L981.9 454.4L982.9 453.2L983.8 452.0L984.8 450.8L985.7 449.6L986.6 448.4L987.5 447.2L988.3 446.0L989.2 444.8L990.1 443.5L990.9 442.3L991.8 441.0L992.6 439.8L993.4 438.5L994.2 437.3L995.1 436.0L995.9 434.7L996.7 433.4L997.5 432.2L998.3 430.9L999.1 429.6L999.9 428.3L1000.7 427.1L1001.5 425.8L1002.3 424.5L1003.1 423.2L1003.9 422.0L1004.7 420.7L1005.5 419.4L1006.3 418.1L1007.1 416.9L1007.9 415.6L1008.7 414.4L1009.6 413.1L1010.4 411.9L1011.3 410.6L1012.1 409.4L1013.0 408.2L1013.9 406.9L1014.8 405.7L1015.7 404.5L1016.6 403.3L1017.5 402.1L1018.5 401.0L1019.4 399.8L1020.4 398.7L1021.4 397.5L1022.4 396.4L1023.4 395.3L1024.5 394.2L1025.5 393.1L1026.6 392.1L1027.7 391.1L1028.8 390.0L1029.9 389.0L1031.1 388.1L1032.3 387.2L1033.6 386.4L1035.0 385.8L1036.4 385.4L1037.9 385.3L1039.4 385.5L1040.8 386.0L1042.1 386.8L1043.3 387.7L1044.5 388.6L1045.6 389.7L1046.7 390.7L1047.7 391.8L1048.8 392.9L1049.8 394.0L1050.8 395.1L1051.8 396.2L1052.8 397.3L1053.8 398.5L1054.7 399.7L1055.7 400.8L1056.6 402.0L1057.5 403.3L1058.3 404.5L1059.2 405.7L1060.0 407.0L1060.9 408.2L1061.7 409.5L1062.5 410.7L1063.3 412.0L1064.1 413.3L1064.9 414.6L1065.7 415.8L1066.5 417.1L1067.3 418.4L1068.1 419.6L1069.0 420.9L1069.8 422.2L1070.6 423.5L1071.4 424.7L1072.2 426.0L1073.0 427.2L1073.9 428.5L1074.7 429.7L1075.6 431.0L1076.4 432.2L1077.3 433.5L1078.1 434.7L1079.0 435.9L1079.9 437.2L1080.8 438.4L1081.7 439.6L1082.6 440.8L1083.5 442.0L1084.4 443.2L1085.4 444.3L1086.3 445.5L1087.3 446.7L1088.2 447.8L1089.2 449.0L1090.2 450.1L1091.2 451.2L1092.2 452.3L1093.3 453.4L1094.3 454.5L1095.4 455.6L1096.4 456.6L1097.5 457.7L1098.6 458.7L1099.7 459.7L1100.9 460.7L1102.0 461.7L1103.2 462.6L1104.4 463.6L1105.6 464.5L1106.8 465.4L1108.0 466.2L1109.2 467.1L1110.5 467.9L1111.8 468.7L1113.1 469.5L1114.4 470.3L1115.7 471.0L1117.0 471.7L1118.4 472.4L1119.7 473.1L1121.1 473.7L1122.4 474.3L1123.8 474.9L1125.2 475.5L1126.6 476.0L1128.0 476.6L1129.4 477.1L1130.9 477.6L1132.3 478.0L1133.7 478.5L1135.2 478.9L1136.6 479.3L1138.1 479.7L1139.6 480.0L1141.0 480.4L1142.5 480.7L1144.0 481.0L1145.4 481.3L1146.9 481.6L1148.4 481.8L1149.9 482.0L1151.4 482.2L1152.9 482.4L1154.4 482.6L1155.9 482.8L1157.4 482.9L1158.9 483.0L1160.4 483.1L1161.9 483.2L1163.4 483.3L1164.9 483.3L1166.4 483.3L1167.9 483.4L1169.4 483.4L1170.9 483.3L1172.4 483.3L1173.9 483.2L1175.4 483.2L1176.9 483.1L1178.4 483.0L1179.9 482.8L1181.4 482.7L1182.9 482.5L1184.4 482.4L1185.9 482.2L1187.4 482.0L1188.9 481.8L1190.4 481.6L1191.9 481.3L1193.4 481.1L1194.9 480.8L1196.3 480.6L1197.8 480.3L1199.3 480.0L1200.8 479.7L1202.2 479.4L1203.7 479.1L1205.2 478.8L1206.7 478.5L1208.1 478.2L1209.6 477.8L1211.1 477.5L1212.5 477.2L1214.0 476.8L1215.5 476.5L1217.0 476.2L1218.4 475.8L1219.9 475.5L1221.4 475.2L1222.8 474.8L1224.3 474.5L1225.8 474.2L1227.2 473.8L1228.7 473.5L1230.2 473.1L1231.6 472.8L1233.1 472.4L1234.6 472.1L1236.0 471.7L1237.5 471.4L1238.9 471.0L1240.4 470.7L1241.9 470.3L1243.3 469.9L1244.8 469.5L1246.2 469.2L1247.7 468.8L1249.2 468.4L1250.6 468.0L1252.1 467.6L1253.5 467.2L1255.0 466.8L1256.4 466.4L1257.9 466.0L1259.3 465.6L1260.8 465.2L1262.2 464.8L1263.6 464.4L1265.1 463.9L1266.5 463.5L1268.0 463.1L1269.4 462.6L1270.9 462.2L1272.3 461.7L1273.7 461.3L1275.2 460.8L1276.6 460.4L1278.0 459.9L1279.5 459.4L1280.9 459.0L1282.3 458.5L1283.8 458.0L1285.2 457.6L1286.6 457.1L1288.0 456.6L1289.5 456.1L1290.9 455.6L1292.3 455.2L1293.7 454.7L1295.2 454.2L1296.6 453.7L1298.0 453.2L1299.4 452.7L1300.9 452.2L1302.3 451.7L1303.7 451.2L1305.1 450.7L1306.5 450.2L1307.9 449.7L1309.4 449.1L1310.8 448.6L1312.2 448.1L1313.6 447.6L1315.0 447.1L1316.4 446.6L1317.9 446.1L1319.3 445.5L1320.7 445.0L1322.1 444.5L1323.5 444.0L1324.9 443.5L1326.3 442.9L1327.7 442.4L1329.1 441.9" fill="none" stroke="#ff0000" stroke-width="2.6"/>
<path d="M866.6 497.1L868.1 497.2L869.6 497.2L871.1 497.2L872.6 497.2L874.1 497.3L875.6 497.3L877.1 497.3L878.6 497.3L880.1 497.3L881.6 497.3L883.1 497.3L884.6 497.3L886.1 497.3L887.6 497.3L889.1 497.3L890.7 497.3L892.2 497.3L893.7 497.3L895.2 497.2L896.7 497.2L898.2 497.2L899.7 497.2L901.2 497.1L902.7 497.1L904.2 497.1L905.7 497.0L907.2 497.0L908.7 497.0L910.2 496.9L911.7 496.9L913.2 496.8L914.7 496.8L916.2 496.7L917.7 496.7L919.2 496.6L920.7 496.6L922.2 496.5L923.7 496.4L925.2 496.4L926.7 496.3L928.2 496.3L929.7 496.2L931.2 496.1L932.7 496.1L934.2 496.0L935.7 495.9L937.2 495.8L938.7 495.8L940.2 495.7L941.8 495.6L943.3 495.5L944.8 495.5L946.3 495.4L947.8 495.3L949.3 495.2L950.8 495.1L952.3 495.1L953.8 495.0L955.3 494.9L956.8 494.8L958.3 494.7L959.8 494.6L961.3 494.5L962.8 494.5L964.3 494.4L965.8 494.3L967.3 494.3L968.8 494.2L970.3 494.1L971.8 494.1L973.3 494.1L974.8 494.0L976.3 494.0L977.8 494.0L979.3 494.0L980.8 494.0L982.3 494.0L983.8 494.0L985.3 494.0L986.8 494.0L988.3 493.9L989.8 493.9L991.3 493.8L992.8 493.6L994.3 493.4L995.8 493.1L997.3 492.8L998.7 492.3L1000.1 491.8L1001.4 491.1L1002.7 490.3L1003.9 489.4L1005.0 488.4L1006.1 487.3L1007.1 486.2L1007.9 485.0L1008.8 483.7L1009.5 482.4L1010.2 481.1L1010.8 479.7L1011.4 478.3L1012.0 476.9L1012.5 475.5L1012.9 474.1L1013.3 472.6L1013.7 471.2L1014.1 469.7L1014.4 468.2L1014.7 466.8L1015.0 465.3L1015.2 463.8L1015.4 462.3L1015.7 460.8L1015.9 459.3L1016.1 457.9L1016.2 456.4L1016.4 454.9L1016.6 453.4L1016.8 451.9L1017.0 450.4L1017.1 448.9L1017.3 447.4L1017.5 445.9L1017.7 444.4L1017.9 442.9L1018.0 441.4L1018.2 439.9L1018.4 438.4L1018.6 436.9L1018.8 435.5L1019.0 434.0L1019.1 432.5L1019.3 431.0L1019.5 429.5L1019.7 428.0L1019.9 426.5L1020.1 425.0L1020.2 423.5L1020.4 422.0L1020.6 420.5L1020.8 419.0L1021.0 417.5L1021.2 416.1L1021.4 414.6L1021.6 413.1L1021.7 411.6L1021.9 410.1L1022.1 408.6L1022.3 407.1L1022.5 405.6L1022.7 404.1L1022.9 402.6L1023.1 401.1L1023.2 399.6L1023.4 398.2L1023.6 396.7L1023.8 395.2L1024.0 393.7L1024.2 392.2L1024.4 390.7L1024.6 389.2L1024.8 387.7L1025.0 386.2L1025.1 384.7L1025.3 383.2L1025.5 381.7L1025.7 380.3L1025.9 378.8L1026.1 377.3L1026.3 375.8L1026.5 374.3L1026.7 372.8L1026.9 371.3L1027.0 369.8L1027.2 368.3L1027.4 366.8L1027.6 365.3L1027.8 363.8L1028.0 362.4L1028.2 360.9L1028.4 359.4L1028.6 357.9L1028.8 356.4L1029.0 354.9L1029.2 353.4L1029.4 351.9L1029.6 350.4L1029.9 348.9L1030.1 347.5L1030.4 346.0L1030.6 344.5L1030.9 343.0L1031.2 341.5L1031.5 340.1L1031.8 338.6L1032.1 337.1L1032.4 335.7L1032.7 334.2L1033.1 332.7L1033.5 331.3L1033.9 329.8L1034.3 328.4L1034.7 326.9L1035.2 325.5L1035.8 324.1L1036.5 322.8L1037.4 321.6L1038.4 320.5L1039.6 319.6L1041.0 318.9L1042.5 318.6L1043.9 318.9L1045.3 319.6L1046.4 320.6L1047.5 321.6L1048.6 322.7L1049.5 323.8L1050.4 325.0L1051.3 326.3L1052.1 327.5L1052.8 328.8L1053.6 330.2L1054.2 331.5L1054.9 332.8L1055.5 334.2L1056.2 335.6L1056.8 337.0L1057.4 338.3L1058.0 339.7L1058.6 341.1L1059.2 342.5L1059.7 343.9L1060.3 345.3L1060.9 346.7L1061.4 348.1L1062.0 349.4L1062.5 350.8L1063.1 352.3L1063.6 353.7L1064.1 355.1L1064.7 356.5L1065.2 357.9L1065.7 359.3L1066.2 360.7L1066.8 362.1L1067.3 363.5L1067.8 364.9L1068.3 366.3L1068.8 367.8L1069.3 369.2L1069.8 370.6L1070.3 372.0L1070.8 373.4L1071.4 374.8L1071.9 376.3L1072.4 377.7L1072.9 379.1L1073.4 380.5L1073.9 381.9L1074.4 383.3L1074.9 384.7L1075.5 386.1L1076.0 387.6L1076.5 389.0L1077.1 390.4L1077.6 391.8L1078.1 393.2L1078.7 394.6L1079.2 396.0L1079.8 397.4L1080.3 398.8L1080.9 400.2L1081.5 401.5L1082.1 402.9L1082.7 404.3L1083.3 405.7L1083.9 407.1L1084.5 408.5L1085.1 409.8L1085.7 411.2L1086.3 412.6L1087.0 413.9L1087.6 415.3L1088.3 416.6L1089.0 418.0L1089.6 419.3L1090.3 420.7L1091.0 422.0L1091.7 423.3L1092.4 424.6L1093.2 426.0L1093.9 427.3L1094.7 428.6L1095.4 429.9L1096.2 431.2L1097.0 432.4L1097.8 433.7L1098.6 435.0L1099.4 436.2L1100.2 437.5L1101.1 438.7L1101.9 440.0L1102.8 441.2L1103.7 442.4L1104.6 443.6L1105.5 444.8L1106.4 446.0L1107.4 447.2L1108.3 448.3L1109.3 449.5L1110.3 450.6L1111.3 451.7L1112.3 452.8L1113.4 453.9L1114.4 455.0L1115.5 456.1L1116.6 457.1L1117.7 458.1L1118.8 459.1L1119.9 460.1L1121.1 461.1L1122.2 462.0L1123.4 462.9L1124.6 463.8L1125.8 464.7L1127.1 465.6L1128.3 466.4L1129.6 467.2L1130.9 468.0L1132.2 468.8L1133.5 469.5L1134.8 470.2L1136.2 470.9L1137.5 471.5L1138.9 472.1L1140.3 472.7L1141.7 473.3L1143.1 473.8L1144.5 474.3L1145.9 474.8L1147.4 475.3L1148.8 475.7L1150.3 476.1L1151.7 476.5L1153.2 476.8L1154.6 477.1L1156.1 477.5L1157.6 477.7L1159.1 478.0L1160.6 478.2L1162.0 478.5L1163.5 478.7L1165.0 478.8L1166.5 479.0L1168.0 479.1L1169.5 479.2L1171.0 479.3L1172.5 479.4L1174.0 479.5L1175.5 479.5L1177.0 479.5L1178.5 479.5L1180.0 479.5L1181.5 479.5L1183.0 479.4L1184.5 479.3L1186.0 479.2L1187.5 479.1L1189.0 479.0L1190.5 478.9L1192.0 478.7L1193.5 478.5L1195.0 478.3L1196.5 478.1L1198.0 477.9L1199.5 477.7L1201.0 477.4L1202.4 477.2L1203.9 476.9L1205.4 476.6L1206.9 476.3L1208.4 476.0L1209.8 475.7L1211.3 475.4L1212.8 475.1L1214.2 474.7L1215.7 474.4L1217.2 474.1L1218.6 473.7L1220.1 473.3L1221.5 473.0L1223.0 472.6L1224.5 472.3L1225.9 471.9L1227.4 471.5L1228.8 471.1L1230.3 470.8L1231.7 470.4L1233.2 470.0L1234.7 469.7L1236.1 469.3L1237.6 468.9L1239.0 468.5L1240.5 468.2L1241.9 467.8L1243.4 467.4L1244.9 467.0L1246.3 466.6L1247.8 466.3L1249.2 465.9L1250.7 465.5L1252.1 465.1L1253.6 464.7L1255.0 464.3L1256.5 463.9L1257.9 463.5L1259.4 463.1L1260.8 462.7L1262.3 462.3L1263.7 461.9L1265.2 461.5L1266.6 461.1L1268.1 460.7L1269.5 460.3L1271.0 459.9L1272.4 459.5L1273.8 459.0L1275.3 458.6L1276.7 458.2L1278.2 457.7L1279.6 457.3L1281.0 456.9L1282.5 456.4L1283.9 456.0L1285.3 455.5L1286.8 455.1L1288.2 454.6L1289.6 454.1L1291.1 453.6L1292.5 453.2L1293.9 452.7L1295.3 452.2L1296.8 451.7L1298.2 451.2L1299.6 450.7L1301.0 450.2L1302.4 449.7L1303.8 449.2L1305.3 448.7L1306.7 448.1L1308.1 447.6L1309.5 447.0L1310.9 446.5L1312.3 445.9L1313.7 445.4L1315.1 444.8L1316.4 444.2L1317.8 443.7L1319.2 443.1L1320.6 442.5L1322.0 441.9L1323.4 441.3L1324.7 440.7L1326.1 440.0L1327.5 439.4" fill="none" stroke="#0a28d2" stroke-width="2.6"/>
<rect x="137.8" y="56.6" width="506.90" height="507.00" fill="none" stroke="#000" stroke-width="2.6"/>
<path d="M142.00 563.60v-12.5M142.00 56.60v12.5M152.61 563.60v-6.5M152.61 56.60v6.5M163.22 563.60v-6.5M163.22 56.60v6.5M173.83 563.60v-6.5M173.83 56.60v6.5M184.44 563.60v-6.5M184.44 56.60v6.5M195.05 563.60v-9.5M195.05 56.60v9.5M205.66 563.60v-6.5M205.66 56.60v6.5M216.27 563.60v-6.5M216.27 56.60v6.5M226.88 563.60v-6.5M226.88 56.60v6.5M237.49 563.60v-6.5M237.49 56.60v6.5M248.10 563.60v-12.5M248.10 56.60v12.5M258.71 563.60v-6.5M258.71 56.60v6.5M269.32 563.60v-6.5M269.32 56.60v6.5M279.93 563.60v-6.5M279.93 56.60v6.5M290.54 563.60v-6.5M290.54 56.60v6.5M301.15 563.60v-9.5M301.15 56.60v9.5M311.76 563.60v-6.5M311.76 56.60v6.5M322.37 563.60v-6.5M322.37 56.60v6.5M332.98 563.60v-6.5M332.98 56.60v6.5M343.59 563.60v-6.5M343.59 56.60v6.5M354.20 563.60v-12.5M354.20 56.60v12.5M364.81 563.60v-6.5M364.81 56.60v6.5M375.42 563.60v-6.5M375.42 56.60v6.5M386.03 563.60v-6.5M386.03 56.60v6.5M396.64 563.60v-6.5M396.64 56.60v6.5M407.25 563.60v-9.5M407.25 56.60v9.5M417.86 563.60v-6.5M417.86 56.60v6.5M428.47 563.60v-6.5M428.47 56.60v6.5M439.08 563.60v-6.5M439.08 56.60v6.5M449.69 563.60v-6.5M449.69 56.60v6.5M460.30 563.60v-12.5M460.30 56.60v12.5M470.91 563.60v-6.5M470.91 56.60v6.5M481.52 563.60v-6.5M481.52 56.60v6.5M492.13 563.60v-6.5M492.13 56.60v6.5M502.74 563.60v-6.5M502.74 56.60v6.5M513.35 563.60v-9.5M513.35 56.60v9.5M523.96 563.60v-6.5M523.96 56.60v6.5M534.57 563.60v-6.5M534.57 56.60v6.5M545.18 563.60v-6.5M545.18 56.60v6.5M555.79 563.60v-6.5M555.79 56.60v6.5M566.40 563.60v-12.5M566.40 56.60v12.5M577.01 563.60v-6.5M577.01 56.60v6.5M587.62 563.60v-6.5M587.62 56.60v6.5M598.23 563.60v-6.5M598.23 56.60v6.5M608.84 563.60v-6.5M608.84 56.60v6.5M619.45 563.60v-9.5M619.45 56.60v9.5M630.06 563.60v-6.5M630.06 56.60v6.5M640.67 563.60v-6.5M640.67 56.60v6.5M137.80 559.77h7.0M644.70 559.77h-7.0M137.80 544.63h7.0M644.70 544.63h-7.0M137.80 529.49h7.0M644.70 529.49h-7.0M137.80 514.35h13.0M644.70 514.35h-13.0M137.80 499.21h7.0M644.70 499.21h-7.0M137.80 484.07h7.0M644.70 484.07h-7.0M137.80 468.93h7.0M644.70 468.93h-7.0M137.80 453.79h7.0M644.70 453.79h-7.0M137.80 438.65h13.0M644.70 438.65h-13.0M137.80 423.51h7.0M644.70 423.51h-7.0M137.80 408.37h7.0M644.70 408.37h-7.0M137.80 393.23h7.0M644.70 393.23h-7.0M137.80 378.09h7.0M644.70 378.09h-7.0M137.80 362.95h13.0M644.70 362.95h-13.0M137.80 347.81h7.0M644.70 347.81h-7.0M137.80 332.67h7.0M644.70 332.67h-7.0M137.80 317.53h7.0M644.70 317.53h-7.0M137.80 302.39h7.0M644.70 302.39h-7.0M137.80 287.25h13.0M644.70 287.25h-13.0M137.80 272.11h7.0M644.70 272.11h-7.0M137.80 256.97h7.0M644.70 256.97h-7.0M137.80 241.83h7.0M644.70 241.83h-7.0M137.80 226.69h7.0M644.70 226.69h-7.0M137.80 211.55h13.0M644.70 211.55h-13.0M137.80 196.41h7.0M644.70 196.41h-7.0M137.80 181.27h7.0M644.70 181.27h-7.0M137.80 166.13h7.0M644.70 166.13h-7.0M137.80 150.99h7.0M644.70 150.99h-7.0M137.80 135.85h13.0M644.70 135.85h-13.0M137.80 120.71h7.0M644.70 120.71h-7.0M137.80 105.57h7.0M644.70 105.57h-7.0M137.80 90.43h7.0M644.70 90.43h-7.0M137.80 75.29h7.0M644.70 75.29h-7.0M137.80 60.15h13.0M644.70 60.15h-13.0" stroke="#000" stroke-width="2.6" fill="none"/>
<rect x="841.2" y="56.6" width="506.60" height="506.70" fill="none" stroke="#000" stroke-width="2.6"/>
<path d="M845.20 563.30v-12.5M845.20 56.60v12.5M855.81 563.30v-6.5M855.81 56.60v6.5M866.42 563.30v-6.5M866.42 56.60v6.5M877.03 563.30v-6.5M877.03 56.60v6.5M887.64 563.30v-6.5M887.64 56.60v6.5M898.25 563.30v-9.5M898.25 56.60v9.5M908.86 563.30v-6.5M908.86 56.60v6.5M919.47 563.30v-6.5M919.47 56.60v6.5M930.08 563.30v-6.5M930.08 56.60v6.5M940.69 563.30v-6.5M940.69 56.60v6.5M951.30 563.30v-12.5M951.30 56.60v12.5M961.91 563.30v-6.5M961.91 56.60v6.5M972.52 563.30v-6.5M972.52 56.60v6.5M983.13 563.30v-6.5M983.13 56.60v6.5M993.74 563.30v-6.5M993.74 56.60v6.5M1004.35 563.30v-9.5M1004.35 56.60v9.5M1014.96 563.30v-6.5M1014.96 56.60v6.5M1025.57 563.30v-6.5M1025.57 56.60v6.5M1036.18 563.30v-6.5M1036.18 56.60v6.5M1046.79 563.30v-6.5M1046.79 56.60v6.5M1057.40 563.30v-12.5M1057.40 56.60v12.5M1068.01 563.30v-6.5M1068.01 56.60v6.5M1078.62 563.30v-6.5M1078.62 56.60v6.5M1089.23 563.30v-6.5M1089.23 56.60v6.5M1099.84 563.30v-6.5M1099.84 56.60v6.5M1110.45 563.30v-9.5M1110.45 56.60v9.5M1121.06 563.30v-6.5M1121.06 56.60v6.5M1131.67 563.30v-6.5M1131.67 56.60v6.5M1142.28 563.30v-6.5M1142.28 56.60v6.5M1152.89 563.30v-6.5M1152.89 56.60v6.5M1163.50 563.30v-12.5M1163.50 56.60v12.5M1174.11 563.30v-6.5M1174.11 56.60v6.5M1184.72 563.30v-6.5M1184.72 56.60v6.5M1195.33 563.30v-6.5M1195.33 56.60v6.5M1205.94 563.30v-6.5M1205.94 56.60v6.5M1216.55 563.30v-9.5M1216.55 56.60v9.5M1227.16 563.30v-6.5M1227.16 56.60v6.5M1237.77 563.30v-6.5M1237.77 56.60v6.5M1248.38 563.30v-6.5M1248.38 56.60v6.5M1258.99 563.30v-6.5M1258.99 56.60v6.5M1269.60 563.30v-12.5M1269.60 56.60v12.5M1280.21 563.30v-6.5M1280.21 56.60v6.5M1290.82 563.30v-6.5M1290.82 56.60v6.5M1301.43 563.30v-6.5M1301.43 56.60v6.5M1312.04 563.30v-6.5M1312.04 56.60v6.5M1322.65 563.30v-9.5M1322.65 56.60v9.5M1333.26 563.30v-6.5M1333.26 56.60v6.5M1343.87 563.30v-6.5M1343.87 56.60v6.5M841.20 559.58h12.5M1347.80 559.58h-12.5M841.20 552.92h6.5M1347.80 552.92h-6.5M841.20 546.26h6.5M1347.80 546.26h-6.5M841.20 539.61h6.5M1347.80 539.61h-6.5M841.20 532.95h6.5M1347.80 532.95h-6.5M841.20 526.29h9.5M1347.80 526.29h-9.5M841.20 519.63h6.5M1347.80 519.63h-6.5M841.20 512.97h6.5M1347.80 512.97h-6.5M841.20 506.32h6.5M1347.80 506.32h-6.5M841.20 499.66h6.5M1347.80 499.66h-6.5M841.20 493.00h12.5M1347.80 493.00h-12.5M841.20 486.34h6.5M1347.80 486.34h-6.5M841.20 479.68h6.5M1347.80 479.68h-6.5M841.20 473.03h6.5M1347.80 473.03h-6.5M841.20 466.37h6.5M1347.80 466.37h-6.5M841.20 459.71h9.5M1347.80 459.71h-9.5M841.20 453.05h6.5M1347.80 453.05h-6.5M841.20 446.39h6.5M1347.80 446.39h-6.5M841.20 439.74h6.5M1347.80 439.74h-6.5M841.20 433.08h6.5M1347.80 433.08h-6.5M841.20 426.42h12.5M1347.80 426.42h-12.5M841.20 419.76h6.5M1347.80 419.76h-6.5M841.20 413.10h6.5M1347.80 413.10h-6.5M841.20 406.45h6.5M1347.80 406.45h-6.5M841.20 399.79h6.5M1347.80 399.79h-6.5M841.20 393.13h9.5M1347.80 393.13h-9.5M841.20 386.47h6.5M1347.80 386.47h-6.5M841.20 379.81h6.5M1347.80 379.81h-6.5M841.20 373.16h6.5M1347.80 373.16h-6.5M841.20 366.50h6.5M1347.80 366.50h-6.5M841.20 359.84h12.5M1347.80 359.84h-12.5M841.20 353.18h6.5M1347.80 353.18h-6.5M841.20 346.52h6.5M1347.80 346.52h-6.5M841.20 339.87h6.5M1347.80 339.87h-6.5M841.20 333.21h6.5M1347.80 333.21h-6.5M841.20 326.55h9.5M1347.80 326.55h-9.5M841.20 319.89h6.5M1347.80 319.89h-6.5M841.20 313.23h6.5M1347.80 313.23h-6.5M841.20 306.58h6.5M1347.80 306.58h-6.5M841.20 299.92h6.5M1347.80 299.92h-6.5M841.20 293.26h12.5M1347.80 293.26h-12.5M841.20 286.60h6.5M1347.80 286.60h-6.5M841.20 279.94h6.5M1347.80 279.94h-6.5M841.20 273.29h6.5M1347.80 273.29h-6.5M841.20 266.63h6.5M1347.80 266.63h-6.5M841.20 259.97h9.5M1347.80 259.97h-9.5M841.20 253.31h6.5M1347.80 253.31h-6.5M841.20 246.65h6.5M1347.80 246.65h-6.5M841.20 240.00h6.5M1347.80 240.00h-6.5M841.20 233.34h6.5M1347.80 233.34h-6.5M841.20 226.68h12.5M1347.80 226.68h-12.5M841.20 220.02h6.5M1347.80 220.02h-6.5M841.20 213.36h6.5M1347.80 213.36h-6.5M841.20 206.71h6.5M1347.80 206.71h-6.5M841.20 200.05h6.5M1347.80 200.05h-6.5M841.20 193.39h9.5M1347.80 193.39h-9.5M841.20 186.73h6.5M1347.80 186.73h-6.5M841.20 180.07h6.5M1347.80 180.07h-6.5M841.20 173.42h6.5M1347.80 173.42h-6.5M841.20 166.76h6.5M1347.80 166.76h-6.5M841.20 160.10h12.5M1347.80 160.10h-12.5M841.20 153.44h6.5M1347.80 153.44h-6.5M841.20 146.78h6.5M1347.80 146.78h-6.5M841.20 140.13h6.5M1347.80 140.13h-6.5M841.20 133.47h6.5M1347.80 133.47h-6.5M841.20 126.81h9.5M1347.80 126.81h-9.5M841.20 120.15h6.5M1347.80 120.15h-6.5M841.20 113.49h6.5M1347.80 113.49h-6.5M841.20 106.84h6.5M1347.80 106.84h-6.5M841.20 100.18h6.5M1347.80 100.18h-6.5M841.20 93.52h12.5M1347.80 93.52h-12.5M841.20 86.86h6.5M1347.80 86.86h-6.5M841.20 80.20h6.5M1347.80 80.20h-6.5M841.20 73.55h6.5M1347.80 73.55h-6.5M841.20 66.89h6.5M1347.80 66.89h-6.5M841.20 60.23h9.5M1347.80 60.23h-9.5" stroke="#000" stroke-width="2.6" fill="none"/>
<text x="125.79" y="599.10" font-size="30.0">10</text>
<text x="828.99" y="599.10" font-size="30.0">10</text>
<text x="231.26" y="599.10" font-size="30.0">20</text>
<text x="934.46" y="599.10" font-size="30.0">20</text>
<text x="337.55" y="599.10" font-size="30.0">30</text>
<text x="1040.75" y="599.10" font-size="30.0">30</text>
<text x="443.87" y="599.10" font-size="30.0">40</text>
<text x="1147.08" y="599.10" font-size="30.0">40</text>
<text x="549.71" y="599.10" font-size="30.0">50</text>
<text x="1252.91" y="599.10" font-size="30.0">50</text>
<text x="109.57" y="522.91" font-size="30.0">0</text>
<text x="108.85" y="447.41" font-size="30.0">5</text>
<text x="89.73" y="372.21" font-size="30.0">10</text>
<text x="89.20" y="296.71" font-size="30.0">15</text>
<text x="90.03" y="221.51" font-size="30.0">20</text>
<text x="89.70" y="146.16" font-size="30.0">25</text>
<text x="793.30" y="568.42" font-size="30.0">−2</text>
<text x="810.48" y="501.91" font-size="30.0">0</text>
<text x="810.85" y="435.70" font-size="30.0">2</text>
<text x="810.17" y="369.19" font-size="30.0">4</text>
<text x="810.62" y="302.83" font-size="30.0">6</text>
<text x="810.62" y="236.47" font-size="30.0">8</text>
<text x="793.83" y="170.11" font-size="30.0">10</text>
<text x="1.27" y="67.60" font-size="30.00">30</text>
<text transform="translate(41.60 70.26) scale(1.0000 1)" font-size="31.46">×</text>
<text x="67.55" y="67.60" font-size="30.00">10</text>
<text transform="translate(99.11 55.49) scale(1.1151 1)" font-size="19.60">−</text>
<text x="111.06" y="54.40" font-size="19.60">3</text>
<text x="703.47" y="108.00" font-size="29.80">12</text>
<text transform="translate(742.88 111.16) scale(1.0071 1)" font-size="31.46">×</text>
<text x="768.87" y="108.00" font-size="29.80">10</text>
<text transform="translate(800.02 95.86) scale(1.2242 1)" font-size="19.20">−</text>
<text x="812.38" y="95.00" font-size="19.20">3</text>
<text transform="translate(352.04 644.40) scale(0.9526 1)" font-size="30.98">T (°C)</text>
<text transform="translate(1054.34 644.40) scale(0.9539 1)" font-size="30.98">T (°C)</text>
<text transform="translate(60.70 451.81) rotate(-90) scale(0.9374 1)" font-size="31.13">Heat capacity (cal/°C)</text>
<text transform="translate(766.80 451.30) rotate(-90) scale(0.9357 1)" font-size="31.13">Heat capacity (cal/°C)</text>
<text transform="translate(-0.54 30.90) scale(0.8977 1)" font-size="42.46" font-weight="bold">a</text>
<text transform="translate(700.19 30.80) scale(1.0609 1)" font-size="40.69" font-weight="bold">b</text>
<path d="M338.9 98.2H390" stroke="#0000c8" stroke-width="2.6"/>
<text transform="translate(407.43 106.00) scale(0.9525 1)" font-size="26.33">Pluronic 1.2% wt.</text>
<path d="M338.9 129.3H390" stroke="#000" stroke-width="2.6"/>
<text transform="translate(407.43 137.10) scale(0.9525 1)" font-size="26.33">Pluronic 1.6% wt.</text>
<path d="M338.9 160.3H390" stroke="#808080" stroke-width="2.6"/>
<text transform="translate(407.43 168.20) scale(0.9525 1)" font-size="26.33">Pluronic 4.7% wt.</text>
<path d="M338.6 191.4H388.6" stroke="#ff0000" stroke-width="4.2" stroke-linecap="round" stroke-dasharray="0 7.1428"/>
<text transform="translate(407.43 199.30) scale(0.9525 1)" font-size="26.33">Pluronic 7.8% wt.</text>
<path d="M917 106.9H968" stroke="#0a28d2" stroke-width="2.6"/>
<path d="M917 138.0H968" stroke="#ff0000" stroke-width="2.6"/>
<path d="M917 200.7H968" stroke="#2b1a08" stroke-width="2.6"/>
<text transform="translate(985.03 115.00) scale(0.9674 1)" font-size="25.89">Pluronic 1.2%</text>
<text transform="translate(984.94 146.70) scale(0.9700 1)" font-size="25.89">Continuous phase</text>
<text transform="translate(986.26 170.90) scale(0.9596 1)" font-size="25.89">with Pluronic 1.2%</text>
<text transform="translate(985.78 209.10) scale(0.9637 1)" font-size="25.89">Washed nanoemulsion</text>
<text transform="translate(985.96 234.20) scale(0.9634 1)" font-size="25.89">with Pluronic 1.2%</text>
<text transform="translate(254.96 157.20) scale(1.0723 1)" font-size="19.64" font-weight="bold" fill="#ff0000">23 °C</text>
<text transform="translate(321.27 226.40) scale(1.0697 1)" font-size="19.50" font-weight="bold" fill="#888888">24 °C</text>
<text transform="translate(357.37 399.30) scale(1.0297 1)" font-size="20.22" font-weight="bold">28 °C</text>
<text transform="translate(373.97 439.30) scale(1.0173 1)" font-size="20.50" font-weight="bold" fill="#0000c8">29 °C</text>
<text transform="translate(1018.17 306.20) scale(1.0446 1)" font-size="19.93" font-weight="bold">29 °C</text>
<text transform="translate(560.39 362.00) scale(1.0679 1)" font-size="19.49" font-weight="bold">Endo</text>
<text transform="translate(1265.59 361.80) scale(1.0543 1)" font-size="19.78" font-weight="bold">Endo</text>
<text transform="translate(479.67 479.70) scale(1.0303 1)" font-size="20.51" font-weight="bold">Heating</text>
<text transform="translate(1179.97 531.80) scale(0.9816 1)" font-size="21.53" font-weight="bold">Heating</text>
<path d="M491.1 447.0H530.8" stroke="#333" stroke-width="1.9"/>
<path d="M547.3 447.0L524.3 439.6L530.8 447.0L524.3 454.4Z" fill="#000"/>
<path d="M1190.1 498.2H1230.0" stroke="#111" stroke-width="1.9"/>
<path d="M1246.5 498.2L1223.5 490.8L1230.0 498.2L1223.5 505.59999999999997Z" fill="#000"/>
<path d="M587.6 327.3V287.6" stroke="#222" stroke-width="1.9"/>
<path d="M587.6 271.1L580.2 294.1L587.6 287.6L595.0 294.1Z" fill="#000"/>
<path d="M1292.9 327.4V287.5" stroke="#222" stroke-width="1.9"/>
<path d="M1292.9 271.0L1285.5 294.0L1292.9 287.5L1300.3000000000002 294.0Z" fill="#000"/>
</svg>
</body></html>
